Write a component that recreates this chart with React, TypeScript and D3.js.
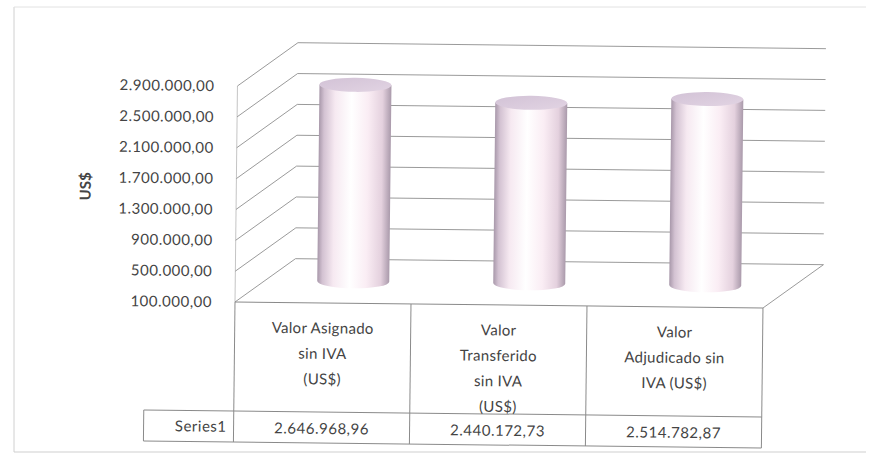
import React from "react";
import * as d3 from "d3";

const categories: string[][] = [
  ["Valor Asignado", "sin IVA", "(US$)"],
  ["Valor", "Transferido", "sin IVA", "(US$)"],
  ["Valor", "Adjudicado sin", "IVA (US$)"],
];
const values: number[] = [2646968.96, 2440172.73, 2514782.87];
const ticks: number[] = [100000, 500000, 900000, 1300000, 1700000, 2100000, 2500000, 2900000];
const seriesName = "Series1";
const axisTitle = "US$";

const W = 872;
const H = 458;
const FONT = "Lato, 'Open Sans', sans-serif";
const TXT = "#444444";

export default function App() {
  const locale = d3.formatLocale({ decimal: ",", thousands: ".", grouping: [3], currency: ["", ""] });
  const fmt = locale.format(",.2f");

  const x = d3.scaleBand<number>().domain(categories.map((_, i) => i)).range([235, 763]).padding(0);
  const y = d3.scaleLinear().domain([100000, 2900000]).range([302, 86]);
  const DX = 60;
  const DY = -44;
  const bw = x.bandwidth();
  const rx = 36;
  const ry = 7;
  const floorY = y(100000);
  const tableTop = floorY;
  const rowTop = 411;
  const rowBot = 442;
  const left = x.range()[0];
  const right = x.range()[1];
  const grid = "#8f8f8f";

  return (
    <svg width={W} height={H} style={{ display: "block", position: "absolute", left: 0, top: 0 }}>
      <defs>
        <linearGradient id="cyl" x1="0" x2="1" y1="0" y2="0">
          <stop offset="0" stopColor="#a898aa" />
          <stop offset="0.07" stopColor="#d3c2d2" />
          <stop offset="0.22" stopColor="#f6e9f1" />
          <stop offset="0.45" stopColor="#ffffff" />
          <stop offset="0.68" stopColor="#faedf4" />
          <stop offset="0.88" stopColor="#e4d1de" />
          <stop offset="1" stopColor="#aa9aab" />
        </linearGradient>
        <linearGradient id="cyltop" x1="0" x2="1" y1="0" y2="1">
          <stop offset="0" stopColor="#d2c2d6" />
          <stop offset="1" stopColor="#e2d4e3" />
        </linearGradient>
      </defs>
      <rect x={0} y={0} width={W} height={H} fill="#ffffff" />
      <line x1={14} y1={7} x2={14} y2={452} stroke="#d0d0d0" />
      <line x1={14} y1={7} x2={866} y2={7} stroke="#e2e2e2" />
      <line x1={14} y1={452} x2={866} y2={452} stroke="#cfcfcf" />
      <g transform={`rotate(0.65 ${left} ${floorY})`}>
        <line x1={left} y1={y(2900000)} x2={left} y2={floorY} stroke="#c4c4c4" />
        {ticks.map((t) => (
          <g key={t}>
            <line x1={left} y1={y(t)} x2={left + DX} y2={y(t) + DY} stroke={grid} strokeWidth={0.9} />
            <line x1={left + DX} y1={y(t) + DY} x2={right + DX} y2={y(t) + DY} stroke={grid} strokeWidth={0.9} />
          </g>
        ))}
        <line x1={right} y1={floorY} x2={right + DX} y2={floorY + DY} stroke={grid} strokeWidth={0.9} />
        {ticks.map((t) => (
          <text key={"l" + t} x={212} y={y(t)} dy="0.36em" textAnchor="end" fontFamily={FONT} fontSize={15} letterSpacing={0.5} fill={TXT}>
            {fmt(t)}
          </text>
        ))}
        {values.map((v, i) => {
          const cx = (x(i) as number) + bw / 2 + DX / 2;
          const yt = y(v) + DY / 2;
          const yb = floorY + DY / 2;
          return (
            <g key={"c" + i}>
              <path
                d={`M${cx - rx},${yt} L${cx - rx},${yb} A${rx},${ry} 0 0 0 ${cx + rx},${yb} L${cx + rx},${yt} Z`}
                fill="url(#cyl)"
              />
              <ellipse cx={cx} cy={yt} rx={rx} ry={ry} fill="url(#cyltop)" />
            </g>
          );
        })}
        <line x1={left} y1={tableTop} x2={right} y2={tableTop} stroke="#8a8a8a" />
        {[0, 1, 2, 3].map((k) => {
          const xx = k < 3 ? (x(k) as number) : right;
          return <line key={"v" + k} x1={xx} y1={tableTop} x2={xx} y2={rowBot} stroke="#8a8a8a" />;
        })}
        <line x1={145} y1={rowTop} x2={right} y2={rowTop} stroke="#8a8a8a" />
        <line x1={145} y1={rowBot} x2={right} y2={rowBot} stroke="#8a8a8a" />
        <line x1={145} y1={rowTop} x2={145} y2={rowBot} stroke="#8a8a8a" />
        <text x={228} y={(rowTop + rowBot) / 2} dy="0.36em" textAnchor="end" fontFamily={FONT} fontSize={15} letterSpacing={0.5} fill={TXT}>
          {seriesName}
        </text>
        {categories.map((lines, i) => (
          <g key={"t" + i}>
            {lines.map((ln, j) => (
              <text
                key={j}
                x={(x(i) as number) + bw / 2}
                y={327 + j * 25.5}
                dy="0.36em"
                textAnchor="middle"
                fontFamily={FONT}
                fontSize={15}
                letterSpacing={0.3}
                fill={TXT}
              >
                {ln}
              </text>
            ))}
            <text
              x={(x(i) as number) + bw / 2}
              y={(rowTop + rowBot) / 2 + 1}
              dy="0.36em"
              textAnchor="middle"
              fontFamily={FONT}
              fontSize={15}
              letterSpacing={0.5}
              fill={TXT}
            >
              {fmt(values[i])}
            </text>
          </g>
        ))}
        <text
          transform={`translate(84,188) rotate(-90)`}
          textAnchor="middle"
          dy="0.36em"
          fontFamily={FONT}
          fontSize={15}
          fontWeight="bold"
          fill={TXT}
        >
          {axisTitle}
        </text>
      </g>
    </svg>
  );
}
